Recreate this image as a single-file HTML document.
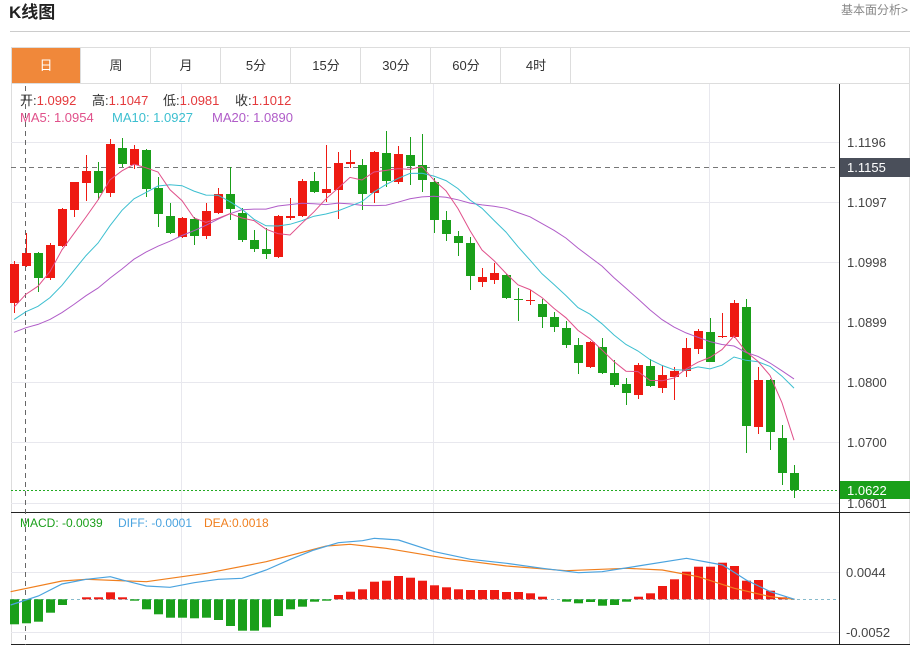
<!DOCTYPE html>
<html><head><meta charset="utf-8"><style>
body{margin:0;background:#fff;width:918px;height:647px;overflow:hidden;font-family:"Liberation Sans","Noto Sans CJK SC",sans-serif}
</style></head><body>
<svg id="s" width="918" height="647" xmlns="http://www.w3.org/2000/svg" style="position:absolute;left:0;top:0;font-family:'Liberation Sans','Noto Sans CJK SC',sans-serif">
<text x="9" y="18" font-size="17" font-weight="bold" fill="#222">K线图</text>
<text x="908" y="14" font-size="12" fill="#888" text-anchor="end">基本面分析&gt;</text>
<line x1="10" y1="31.5" x2="910" y2="31.5" stroke="#ccc"/>
<rect x="11.5" y="47.5" width="898" height="597" fill="none" stroke="#ddd"/>
<line x1="11" y1="83.5" x2="910" y2="83.5" stroke="#ddd"/>
<rect x="12" y="48" width="68" height="35" fill="#f0883a"/>
<g font-size="13" fill="#333" text-anchor="middle">
<text x="46" y="70" fill="#fff">日</text><text x="116" y="70">周</text><text x="186" y="70">月</text><text x="256" y="70">5分</text><text x="326" y="70">15分</text><text x="396" y="70">30分</text><text x="466" y="70">60分</text><text x="536" y="70">4时</text>
</g>
<g stroke="#ddd"><line x1="80.5" y1="48" x2="80.5" y2="83"/><line x1="150.5" y1="48" x2="150.5" y2="83"/><line x1="220.5" y1="48" x2="220.5" y2="83"/><line x1="290.5" y1="48" x2="290.5" y2="83"/><line x1="360.5" y1="48" x2="360.5" y2="83"/><line x1="430.5" y1="48" x2="430.5" y2="83"/><line x1="500.5" y1="48" x2="500.5" y2="83"/><line x1="570.5" y1="48" x2="570.5" y2="83"/></g>
<g stroke="#e8e8ee"><line x1="11" y1="142.5" x2="840" y2="142.5"/><line x1="11" y1="202.5" x2="840" y2="202.5"/><line x1="11" y1="262.5" x2="840" y2="262.5"/><line x1="11" y1="322.5" x2="840" y2="322.5"/><line x1="11" y1="382.5" x2="840" y2="382.5"/><line x1="11" y1="442.5" x2="840" y2="442.5"/><line x1="11" y1="503.5" x2="840" y2="503.5"/><line x1="11" y1="572.5" x2="840" y2="572.5"/><line x1="11" y1="632.5" x2="840" y2="632.5"/>
<line x1="181.5" y1="84" x2="181.5" y2="645"/><line x1="433.5" y1="84" x2="433.5" y2="645"/><line x1="709.5" y1="84" x2="709.5" y2="645"/></g>
<line x1="839.5" y1="84" x2="839.5" y2="645" stroke="#222"/>
<line x1="11" y1="512.5" x2="910" y2="512.5" stroke="#222"/>
<line x1="11" y1="644.5" x2="910" y2="644.5" stroke="#222"/>
<line x1="25.5" y1="86" x2="25.5" y2="645" stroke="#666" stroke-dasharray="5,4"/>
<line x1="11" y1="167.5" x2="839" y2="167.5" stroke="#777" stroke-dasharray="5,4"/>
<line x1="11" y1="490.5" x2="839" y2="490.5" stroke="#2a2" stroke-dasharray="2,2"/>
<line x1="11" y1="599.5" x2="839" y2="599.5" stroke="#8bc" stroke-dasharray="3,3"/>
<g id="cd"></g>
<g font-size="13" fill="#444">
<text x="847" y="147">1.1196</text><text x="847" y="207">1.1097</text><text x="847" y="267">1.0998</text><text x="847" y="327">1.0899</text><text x="847" y="387">1.0800</text><text x="847" y="447">1.0700</text><text x="847" y="508">1.0601</text>
<text x="846" y="577">0.0044</text><text x="846" y="637">-0.0052</text></g>
<rect x="840" y="158" width="70" height="19" fill="#4a4f5a"/><text x="847" y="172" font-size="13" fill="#fff">1.1155</text>
<rect x="840" y="481" width="70" height="18" fill="#1aa01a"/><text x="847" y="495" font-size="13" fill="#fff">1.0622</text>
<g font-size="13">
<text x="20" y="105" fill="#333">开:<tspan fill="#e4393c">1.0992</tspan></text>
<text x="92" y="105" fill="#333">高:<tspan fill="#e4393c">1.1047</tspan></text>
<text x="163" y="105" fill="#333">低:<tspan fill="#e4393c">1.0981</tspan></text>
<text x="235" y="105" fill="#333">收:<tspan fill="#e4393c">1.1012</tspan></text>
<text x="20" y="122" fill="#e0508a">MA5: 1.0954</text>
<text x="112" y="122" fill="#3cbfd0">MA10: 1.0927</text>
<text x="212" y="122" fill="#b05cc8">MA20: 1.0890</text></g>
<g font-size="12"><text x="20" y="527" fill="#1a9f1a">MACD: -0.0039</text><text x="118" y="527" fill="#4aa3df">DIFF: -0.0001</text><text x="204" y="527" fill="#f07f1e">DEA:0.0018</text></g>
</svg>
<script>
var C=[['r',264,303,261,313],['r',253,266,233,267],['g',253,278,252,292],['r',245,278,243,280],['r',209,246,208,247],['r',182,210,182,217],['r',171,183,155,201],['g',171,193,162,200],['r',144,193,139,197],['g',148,164,138,167],['r',149,165,145,169],['g',150,189,149,197],['g',188,214,177,227],['g',216,233,203,234],['r',218,237,217,238],['g',219,236,217,245],['r',211,236,203,239],['r',194,213,188,214],['g',194,209,167,220],['g',213,240,208,242],['g',240,249,230,252],['g',249,254,228,259],['r',216,257,215,258],['r',216,218,198,220],['r',181,216,179,217],['g',181,192,172,193],['r',189,193,145,202],['r',163,190,152,219],['r',162,164,150,168],['g',165,194,159,210],['r',152,193,151,203],['g',153,181,131,187],['r',154,182,146,184],['g',155,166,137,185],['g',165,180,134,192],['g',182,220,178,233],['g',220,234,211,241],['g',236,243,231,256],['g',243,276,237,290],['r',277,282,268,287],['r',273,280,263,284],['g',275,298,274,299],['g',299,300,288,321],['r',300,301,290,305],['g',304,317,299,328],['g',317,327,312,332],['g',328,345,321,348],['g',345,363,338,374],['r',342,367,341,368],['g',347,373,338,374],['g',373,385,360,387],['g',384,393,378,405],['r',365,395,363,399],['g',366,386,359,387],['r',375,388,365,393],['r',371,377,367,400],['r',348,371,338,377],['r',331,349,329,354],['g',332,362,318,362],['r',336,337,313,338],['r',303,337,300,338],['g',307,426,299,453],['r',380,427,367,434],['g',380,432,379,450],['g',438,473,425,485],['g',473,490,465,498]];
var h='',cl=[];
var hist=[345,345,345,345,345,345,345,345,345,345,332,332,332,332,332,318,318,318,318];
C.forEach(function(c,i){var x=14+i*12,col=c[0]=='r'?'#ee1a12':'#1a9f1a';
h+='<line x1="'+(x+.5)+'" y1="'+c[3]+'" x2="'+(x+.5)+'" y2="'+c[4]+'" stroke="'+col+'"/>';
h+='<rect x="'+(x-4)+'" y="'+c[1]+'" width="9" height="'+Math.max(1,c[2]-c[1])+'" fill="'+col+'"/>';
cl.push(c[0]=='r'?c[1]:c[2]);});
var all=hist.concat(cl);
function ma(n,color){var p=[];for(var i=0;i<cl.length;i++){var k=i+19,s=0;for(var j=0;j<n;j++)s+=all[k-j];p.push((14+i*12)+','+(s/n).toFixed(1));}
return '<polyline points="'+p.join(' ')+'" fill="none" stroke="'+color+'" stroke-width="1"/>';}
h+=ma(20,'#b05cc8')+ma(10,'#3cbfd0')+ma(5,'#e0508a');
var B=[343,340,335,308,285,268,262,262,247,262,272,298,313,323,323,325,323,330,348,362,362,352,318,298,290,275,272,255,245,238,215,212,198,203,212,226,232,238,240,240,240,246,246,250,260,268,275,280,276,287,285,275,260,250,228,208,185,170,170,158,168,212,210,242,262,268];
B.forEach(function(v,i){var x=14+i*12,y=510+v/3,z=599.3,col=y>z?'#1a9f1a':'#ee1a12';var t=Math.min(y,z),hh=Math.abs(y-z);if(hh<0.5)return;
h+='<rect x="'+(x-4)+'" y="'+t.toFixed(1)+'" width="9" height="'+hh.toFixed(1)+'" fill="'+col+'"/>';});
function ln(pts,color){return '<polyline points="'+pts.map(function(p){return (p[0]/1.694).toFixed(1)+','+(510+p[1]/3).toFixed(1)}).join(' ')+'" fill="none" stroke="'+color+'" stroke-width="1.2"/>';}
h+=ln([[18,245],[105,213],[146,208],[248,215],[349,190],[451,155],[553,108],[593,103],[654,115],[756,145],[858,168],[959,182],[1061,175],[1122,180],[1183,200],[1244,235],[1305,260],[1346,268]],'#f07f1e');
h+=ln([[18,285],[65,258],[105,222],[146,208],[187,200],[207,210],[248,228],[288,232],[329,218],[370,208],[410,205],[451,180],[492,148],[532,120],[573,98],[614,92],[634,85],[675,90],[736,125],[797,148],[858,160],[919,175],[980,188],[1020,185],[1081,168],[1163,145],[1224,165],[1264,210],[1305,245],[1346,268]],'#4aa3df');
document.getElementById('cd').innerHTML=h;
</script>
</body></html>
